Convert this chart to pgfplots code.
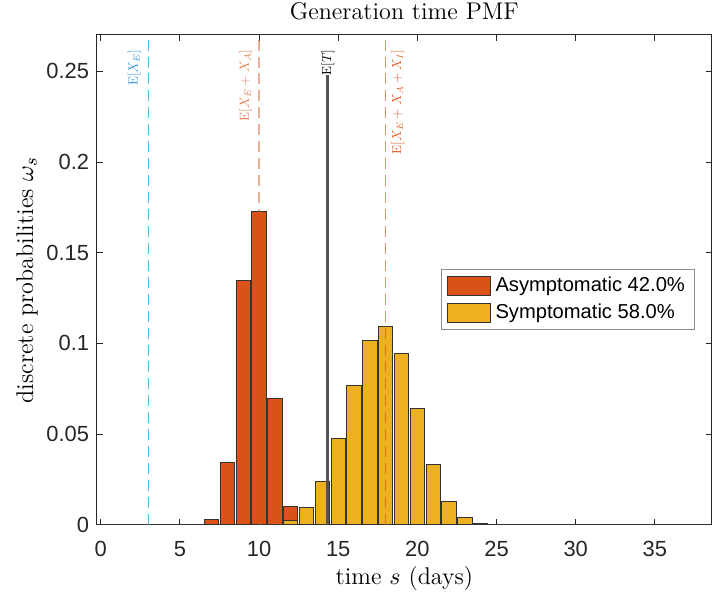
\documentclass[border=0pt]{standalone}
\usepackage{fontspec}
\usepackage{pgfplots}
\pgfplotsset{compat=1.18}
\usetikzlibrary{calc}
\newfontfamily\helv{Liberation Sans}
\definecolor{mRed}{HTML}{D95319}
\definecolor{mYel}{HTML}{EDB120}
\definecolor{mBlue}{HTML}{4DBEEE}
\definecolor{blueTxt}{HTML}{3399DD}
\definecolor{etGray}{HTML}{555555}
\tikzset{mlab/.style={rotate=90, anchor=east, inner sep=0pt, scale=0.6, font=\normalsize}}

\begin{document}
\begin{tikzpicture}
\begin{axis}[
    name=ax,
    scale only axis,
    width=279.6bp, height=222.7bp,
    xmin=-0.25, xmax=38.6,
    ymin=0, ymax=0.27,
    xtick={0,5,...,35},
    ytick={0,0.05,0.1,0.15,0.2,0.25},
    yticklabels={0,0.05,0.1,0.15,0.2,0.25},
    tick align=inside,
    major tick length=2.8bp,
    axis line style={black!85, line width=0.45bp},
    tick style={black!85, line width=0.45bp},
    every tick label/.append style={font=\helv\fontsize{10}{12}\selectfont, text=black!85},
    xticklabel style={yshift=-3.8bp},
    /pgf/number format/assume math mode=true,
    every axis title shift=0pt,
    title={Generation time PMF},
    title style={font=\fontsize{11}{13}\selectfont, anchor=base, at={(axis description cs:0.5,1.031)}},
    xlabel={time $s$ (days)},
    xlabel style={font=\fontsize{11}{13}\selectfont, anchor=base, at={(axis description cs:0.5,-0.1226)}},
    ylabel={discrete probabilities $\omega_s$},
    ylabel style={font=\fontsize{11}{13}\selectfont, anchor=base, at={(axis description cs:-0.1037,0.5)}},
    legend image code/.code={\draw[#1] (0bp,-4.4bp) rectangle (19.8bp,4.4bp);},
    legend cell align=left,
    legend style={at={(0.973,0.522)}, anchor=north east, draw=black!45, line width=0.45bp,
        font=\helv\fontsize{9.2}{11.7}\selectfont, inner xsep=2.5bp, inner ysep=1.5bp,
        row sep=0pt},
]
% asymptomatic
\addplot[ybar, bar width=0.9, bar shift=0pt, fill=mRed, draw=black!80, line width=0.45bp] coordinates {
    (0,0) (1,0) (2,0) (3,0) (4,0) (5,0) (6,0.0003) (7,0.0029) (8,0.0346) (9,0.1345)
    (10,0.1726) (11,0.0694) (12,0.0103) (13,0.0010) (14,0.0001) (15,0) (16,0) (17,0)
    (18,0) (19,0) (20,0) (21,0) (22,0) (23,0) (24,0) (25,0) (26,0) (27,0) (28,0)
    (29,0) (30,0) (31,0) (32,0) (33,0) (34,0) (35,0) (36,0) (37,0) (38,0)
};
\addlegendentry{Asymptomatic 42.0\%}
% symptomatic
\addplot[ybar, bar width=0.9, bar shift=0pt, fill=mYel, draw=black!80, line width=0.45bp] coordinates {
    (0,0) (1,0) (2,0) (3,0) (4,0) (5,0) (6,0) (7,0) (8,0) (9,0) (10,0)
    (11,0.0005) (12,0.0026) (13,0.0094) (14,0.0239) (15,0.0478) (16,0.0769)
    (17,0.1017) (18,0.1094) (19,0.0945) (20,0.0642) (21,0.0335) (22,0.0129)
    (23,0.0040) (24,0.0010) (25,0.0002) (26,0) (27,0) (28,0) (29,0) (30,0)
    (31,0) (32,0) (33,0) (34,0) (35,0) (36,0) (37,0) (38,0)
};
\addlegendentry{Symptomatic 58.0\%}

% mean markers
\addplot[forget plot, mBlue, line width=0.6bp, dash pattern=on 5bp off 2.7bp] coordinates {(3,0) (3,0.27)};
\addplot[forget plot, mRed, opacity=0.45, line width=0.6bp, dash pattern=on 5bp off 2.7bp] coordinates {(10,0) (10,0.27)};
\addplot[forget plot, etGray, line width=1.4bp] coordinates {(14.35,0) (14.35,0.248)};
\addplot[forget plot, mRed, opacity=0.65, line width=0.6bp, dash pattern=on 5bp off 2.7bp] coordinates {(18,0) (18,0.27)};

\node[mlab, text=blueTxt] at (axis cs:2.12,0.262) {$\mathrm{E}[X_E]$};
\node[mlab, text=mRed!75] at (axis cs:9.15,0.262) {$\mathrm{E}[X_E+X_A]$};
\node[mlab, text=black] at (axis cs:14.35,0.262) {$\mathrm{E}[T]$};
\node[mlab, text=mRed!90] at (axis cs:18.77,0.262) {$\mathrm{E}[X_E+X_A+X_I]$};
\end{axis}
\pgfresetboundingbox
\path[use as bounding box] ($(ax.south west)+(-44bp,-33.7bp)$) rectangle ($(ax.north east)+(0.5bp,15.9bp)$);
\end{tikzpicture}
\end{document}
